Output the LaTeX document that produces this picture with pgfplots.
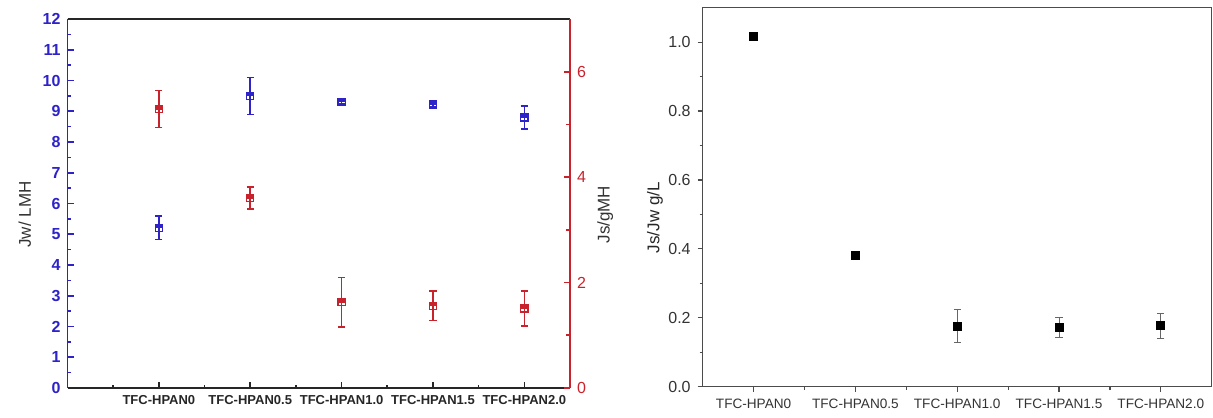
\documentclass[border=0pt]{standalone}
\usepackage{fontspec}
\setmainfont{Liberation Sans}
\usepackage{pgfplots}
\pgfplotsset{compat=1.18}
\definecolor{cblue}{RGB}{45,35,200}
\definecolor{cred}{RGB}{200,35,45}
\pgfdeclareplotmark{halfsq}{%
  \pgfpathrectangle{\pgfpoint{-\pgfplotmarksize}{0pt}}{\pgfpoint{2\pgfplotmarksize}{\pgfplotmarksize}}%
  \pgfusepathqfillstroke
  \pgfpathrectangle{\pgfpoint{-\pgfplotmarksize}{-\pgfplotmarksize}}{\pgfpoint{2\pgfplotmarksize}{2\pgfplotmarksize}}%
  \pgfusepathqstroke}
\begin{document}
\begin{tikzpicture}
\path[use as bounding box] (0,0) rectangle (606.5pt,208.5pt);
% ---------- left panel, blue axis ----------
\begin{axis}[
 at={(33.75pt,14.5pt)}, anchor=south west, scale only axis,
 width=251.25pt, height=184.5pt,
 xmin=0, xmax=5.5, ymin=0, ymax=12,
 axis x line*=bottom, axis y line*=left,
 x axis line style={black!85, line width=0.9pt},
 y axis line style={cblue, line width=0.9pt},
 xtick={1,2,3,4,5},
 xticklabels={TFC-HPAN0,TFC-HPAN0.5,TFC-HPAN1.0,TFC-HPAN1.5,TFC-HPAN2.0},
 minor xtick={0.5,1.5,2.5,3.5,4.5},
 ytick={0,1,...,12}, minor ytick={0.5,1.5,...,11.5},
 tick align=inside,
 major tick length=3pt, minor tick length=1.5pt,
 xtick style={black!85, line width=0.8pt}, ytick style={cblue, line width=0.8pt},
 x tick label style={font=\fontsize{6.5}{7}\selectfont\bfseries, text=black!85},
 y tick label style={font=\fontsize{8}{9}\selectfont\bfseries, text=cblue},
 /pgf/number format/assume math mode=true,
 ylabel={Jw/ LMH},
 every axis y label/.style={at={(axis description cs:-0.085,0.47)}, anchor=center, rotate=90, font=\fontsize{8.5}{10}\selectfont, text=black!80},
 clip=false,
]
\addplot[cblue, only marks, mark=halfsq, mark size=1.8pt,
  mark options={fill=cblue, line width=0.6pt},
  error bars/.cd, y dir=both, y explicit,
  error bar style={cblue, line width=0.8pt},
  error mark options={rotate=90, cblue, mark size=1.8pt, line width=0.8pt}]
coordinates {
 (1,5.21) +- (0,0.38)
 (2,9.50) +- (0,0.60)
 (3,9.31) +- (0,0.08)
 (4,9.22) +- (0,0.07)
 (5,8.80) +- (0,0.38)
};
\end{axis}
% ---------- left panel, red axis ----------
\begin{axis}[
 at={(33.75pt,14.5pt)}, anchor=south west, scale only axis,
 width=251.25pt, height=184.5pt,
 xmin=0, xmax=5.5, ymin=0, ymax=7,
 axis x line*=top, axis y line*=right,
 x axis line style={black!85, line width=0.9pt},
 y axis line style={cred, line width=0.9pt},
 xtick=\empty,
 ytick={0,2,4,6}, minor ytick={1,3,5},
 tick align=inside,
 major tick length=3pt, minor tick length=2pt,
 ytick style={cred, line width=0.8pt},
 y tick label style={font=\fontsize{8}{9}\selectfont, text=cred},
 /pgf/number format/assume math mode=true,
 ylabel={Js/gMH},
 every axis y label/.style={at={(axis description cs:1.07,0.47)}, anchor=center, rotate=90, font=\fontsize{8.5}{10}\selectfont, text=black!80},
 clip=false,
]
\addplot[cred, only marks, mark=halfsq, mark size=1.8pt,
  mark options={fill=cred, line width=0.6pt},
  error bars/.cd, y dir=both, y explicit,
  error bar style={cred, line width=0.8pt},
  error mark options={rotate=90, cred, mark size=1.8pt, line width=0.8pt}]
coordinates {
 (1,5.29) +- (0,0.35)
 (2,3.60) +- (0,0.21)
 (3,1.63) +- (0,0.47)
 (4,1.56) +- (0,0.28)
 (5,1.51) +- (0,0.33)
};
\end{axis}
% ---------- right panel ----------
\begin{axis}[
 at={(351.35pt,15.15pt)}, anchor=south west, scale only axis,
 width=254.5pt, height=189.5pt,
 xmin=0.5, xmax=5.5, ymin=0, ymax=1.1,
 axis line style={black!70, line width=0.7pt},
 xtick={1,2,3,4,5},
 xticklabels={TFC-HPAN0,TFC-HPAN0.5,TFC-HPAN1.0,TFC-HPAN1.5,TFC-HPAN2.0},
 minor xtick={1.5,2.5,3.5,4.5},
 ytick={0,0.2,0.4,0.6,0.8,1.0}, minor ytick={0.1,0.3,0.5,0.7,0.9},
 tick align=outside, tick pos=left,
 major tick length=2.5pt, minor tick length=1.5pt,
 tick style={black!70, line width=0.6pt},
 yticklabel style={/pgf/number format/fixed, /pgf/number format/fixed zerofill, /pgf/number format/precision=1},
 x tick label style={font=\fontsize{6.8}{8}\selectfont, text=black!80},
 y tick label style={font=\fontsize{8}{9}\selectfont, text=black!80},
 /pgf/number format/assume math mode=true,
 ylabel={Js/Jw g/L},
 every axis y label/.style={at={(axis description cs:-0.094,0.446)}, anchor=center, rotate=90, font=\fontsize{8.5}{10}\selectfont, text=black!85},
 clip=false,
]
\addplot[black, only marks, mark=square*, mark size=2pt,
  error bars/.cd, y dir=both, y explicit,
  error bar style={black!60, line width=0.5pt},
  error mark options={rotate=90, black!60, mark size=1.8pt, line width=0.5pt}]
coordinates {
 (1,1.017) +- (0,0.0)
 (2,0.380) +- (0,0.0)
 (3,0.176) +- (0,0.048)
 (4,0.171) +- (0,0.029)
 (5,0.177) +- (0,0.036)
};
\end{axis}
\end{tikzpicture}
\end{document}
